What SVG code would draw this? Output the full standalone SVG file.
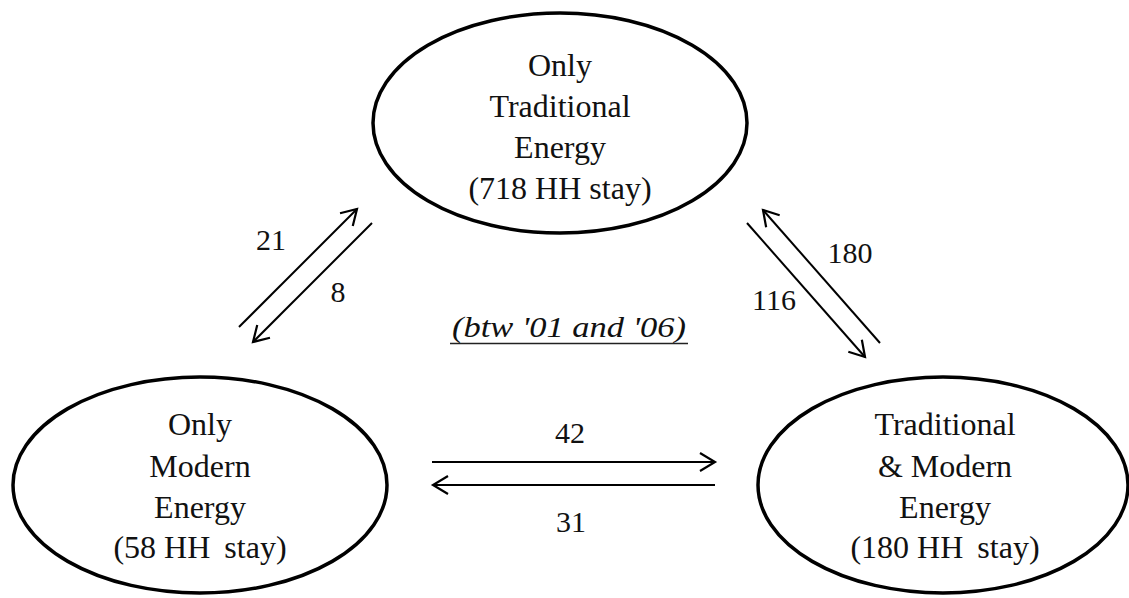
<svg xmlns="http://www.w3.org/2000/svg" width="1129" height="598" viewBox="0 0 1129 598">
<style>
.node ellipse{fill:#fff;stroke:#000;stroke-width:3.5}
.t{font-family:"Liberation Serif","Times New Roman",serif;font-size:32px;fill:#111;text-anchor:middle}
.n{font-family:"Liberation Serif","Times New Roman",serif;font-size:30px;fill:#111;text-anchor:middle}
.c line{stroke:#000;stroke-width:2;marker-end:url(#ah)}
</style>
<defs>
<marker id="ah" markerUnits="userSpaceOnUse" markerWidth="30" markerHeight="30" viewBox="-20 -15 30 30" refX="0" refY="0" orient="auto">
<path d="M-15,-9 L0,0 L-15,9" fill="none" stroke="#000" stroke-width="2.2" stroke-linejoin="miter"/>
</marker>
</defs>
<rect width="1129" height="598" fill="#fff"/>
<g id="node-traditional" class="node">
<ellipse cx="560" cy="123" rx="187" ry="110"/>
<text class="t" x="560" y="76">Only</text>
<text class="t" x="560" y="117">Traditional</text>
<text class="t" x="560" y="158">Energy</text>
<text class="t" x="560" y="199">(718 HH stay)</text>
</g>
<g id="node-modern" class="node">
<ellipse cx="200" cy="485" rx="187" ry="108"/>
<text class="t" x="200" y="435">Only</text>
<text class="t" x="200" y="477">Modern</text>
<text class="t" x="200" y="518">Energy</text>
<text class="t" x="200" y="558">(58 HH <tspan dx="6">stay)</tspan></text>
</g>
<g id="node-both" class="node">
<ellipse cx="943" cy="485" rx="185" ry="108"/>
<text class="t" x="945" y="435">Traditional</text>
<text class="t" x="945" y="477">&amp; Modern</text>
<text class="t" x="945" y="518">Energy</text>
<text class="t" x="945" y="558">(180 HH <tspan dx="6">stay)</tspan></text>
</g>
<g id="connectors" class="c">
<line x1="239" y1="327" x2="357" y2="209"/>
<line x1="372" y1="223" x2="253" y2="342"/>
<line x1="747" y1="223" x2="865" y2="357"/>
<line x1="880" y1="343" x2="763" y2="210"/>
<line x1="432" y1="462" x2="715" y2="462"/>
<line x1="715" y1="485" x2="433" y2="485"/>
</g>
<g id="labels">
<text class="n" x="271" y="250">21</text>
<text class="n" x="338" y="302">8</text>
<text class="n" x="850" y="263">180</text>
<text class="n" x="774" y="310">116</text>
<text class="n" x="570" y="443">42</text>
<text class="n" x="571" y="532">31</text>
</g>
<g id="note">
<text x="569" y="337" text-anchor="middle" font-family="Liberation Serif, serif" font-style="italic" font-size="29" fill="#111" textLength="234" lengthAdjust="spacingAndGlyphs">(btw '01 and '06)</text>
<line x1="450" y1="343.5" x2="688" y2="343.5" stroke="#222" stroke-width="1.5"/>
</g>
</svg>
